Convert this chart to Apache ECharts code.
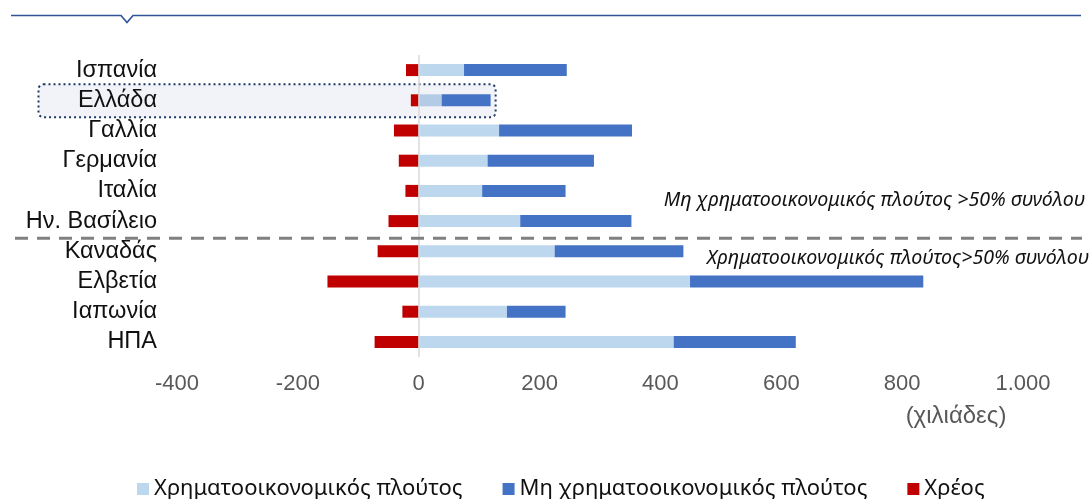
<!DOCTYPE html>
<html lang="el">
<head>
<meta charset="utf-8">
<title>Πλούτος και χρέος ανά χώρα</title>
<script src="https://cdn.jsdelivr.net/npm/echarts@6/dist/echarts.min.js"></script>
<style>
  html, body { margin: 0; padding: 0; background: #ffffff; }
  #chart { width: 1092px; height: 499px; }
</style>
</head>
<body>
<div id="chart"></div>
<script>
// Countries, top to bottom
const categories = ['Ισπανία', 'Ελλάδα', 'Γαλλία', 'Γερμανία', 'Ιταλία', 'Ην. Βασίλειο', 'Καναδάς', 'Ελβετία', 'Ιαπωνία', 'ΗΠΑ'];
// Values in thousands
const financialWealth    = [75, 38, 133, 114, 105, 168, 225, 449, 146, 422];
const nonFinancialWealth = [170, 81, 220, 176, 138, 184, 213, 386, 97, 202];
const debt               = [-21, -13, -41, -33, -22, -50, -68, -151, -27, -73];
// Value-axis ticks
const xTicks = [-400, -200, 0, 200, 400, 600, 800, 1000];

const seriesNames = ['Χρηματοοικονομικός πλούτος', 'Μη χρηματοοικονομικός πλούτος', 'Χρέος'];
const noteUpper = 'Μη χρηματοοικονομικός πλούτος >50% συνόλου';
const noteLower = 'Χρηματοοικονομικός πλούτος>50% συνόλου';
const highlighted = 'Ελλάδα';

const formatThousands = v => {
  const s = String(Math.abs(v)).replace(/\B(?=(\d{3})+(?!\d))/g, '.');
  return (v < 0 ? '-' : '') + s;
};

// Bar items; the highlighted country gets a slightly deeper tint
const withTint = (values, color, tint) => values.map((v, i) =>
  categories[i] === highlighted ? { value: v, itemStyle: { color: tint } } : { value: v, itemStyle: { color } });

const chart = echarts.init(document.getElementById('chart'), null, { renderer: 'canvas' });

const option = {
  animation: false,
  backgroundColor: '#ffffff',
  grid: { left: 177, right: 69, top: 55, bottom: 142, containLabel: false },
  xAxis: {
    type: 'value',
    min: xTicks[0],
    max: xTicks[xTicks.length - 1],
    interval: xTicks[1] - xTicks[0],
    axisLine: { show: false },
    axisTick: { show: false },
    splitLine: { show: false },
    axisLabel: {
      margin: 16,
      color: '#595959',
      fontFamily: 'Liberation Sans, Arial, sans-serif',
      fontSize: 22,
      formatter: formatThousands
    }
  },
  yAxis: {
    type: 'category',
    data: categories,
    inverse: true,
    axisLine: { show: false },
    axisTick: { show: false },
    splitLine: { show: false },
    axisLabel: {
      interval: 0,
      hideOverlap: false,
      margin: 20,
      color: '#111111',
      fontFamily: 'Liberation Sans, Arial, sans-serif',
      fontSize: 23.5
    }
  },
  legend: {
    left: 137,
    top: 478,
    padding: 0,
    itemWidth: 12,
    itemHeight: 12,
    itemGap: 40,
    icon: 'rect',
    data: seriesNames,
    textStyle: {
      color: '#111111',
      fontFamily: 'Noto Sans, Open Sans, sans-serif',
      fontSize: 22
    }
  },
  series: [
    {
      name: seriesNames[0],
      type: 'bar',
      stack: 'total',
      barWidth: 12,
      itemStyle: { color: '#BDD7EE' },
      data: withTint(financialWealth, '#BDD7EE', '#B4CBE6'),
      markLine: {
        silent: true,
        symbol: 'none',
        label: { show: false },
        lineStyle: { color: '#D9D9D9', type: 'solid', width: 1.5 },
        data: [{ xAxis: 0 }]
      }
    },
    {
      name: seriesNames[1],
      type: 'bar',
      stack: 'total',
      barWidth: 12,
      itemStyle: { color: '#4472C4' },
      data: nonFinancialWealth
    },
    {
      name: seriesNames[2],
      type: 'bar',
      stack: 'total',
      barWidth: 12,
      itemStyle: { color: '#C00000' },
      data: debt
    }
  ]
};

chart.setOption(option);

// Decorations placed from the axis scales: top rule, highlight box, group divider, notes, unit label
function drawDecorations() {
  const yOf = name => chart.convertToPixel({ yAxisIndex: 0 }, name);
  const xOf = v => chart.convertToPixel({ xAxisIndex: 0 }, v);
  const gi = categories.indexOf(highlighted);
  const yHi = yOf(highlighted);
  const xHiEnd = xOf(financialWealth[gi] + nonFinancialWealth[gi]);
  const ySep = (yOf('Ην. Βασίλειο') + yOf('Καναδάς')) / 2 + 2;
  const xMax = xOf(xTicks[xTicks.length - 1]);

  chart.setOption({
    graphic: [
      {
        type: 'polyline',
        silent: true,
        shape: { points: [[11, 15.5], [121, 15.5], [127, 22.5], [133, 15.5], [1081, 15.5]] },
        style: { stroke: '#2F5597', lineWidth: 1.6, fill: null }
      },
      {
        type: 'rect',
        silent: true,
        z: -10,
        shape: { x: 38.5, y: yHi - 16, width: xHiEnd + 5 - 38.5, height: 33, r: 5 },
        style: {
          fill: '#F2F3F8',
          stroke: '#1F3864',
          lineWidth: 2,
          lineDash: [2, 3]
        }
      },
      {
        type: 'line',
        silent: true,
        z: 50,
        shape: { x1: 15, y1: ySep, x2: 1082, y2: ySep },
        style: { stroke: '#808080', lineWidth: 3, lineDash: [13, 9] }
      },
      {
        type: 'text',
        silent: true,
        style: {
          x: 1085, y: ySep - 38,
          text: noteUpper,
          align: 'right', verticalAlign: 'middle',
          font: 'italic 19.6px "Noto Sans", "Open Sans", sans-serif',
          fill: '#111111'
        }
      },
      {
        type: 'text',
        silent: true,
        style: {
          x: 1089, y: ySep + 20,
          text: noteLower,
          align: 'right', verticalAlign: 'middle',
          font: 'italic 19.6px "Noto Sans", "Open Sans", sans-serif',
          fill: '#111111'
        }
      },
      {
        type: 'text',
        silent: true,
        style: {
          x: xMax - 67, y: 416,
          text: '(χιλιάδες)',
          align: 'center', verticalAlign: 'middle',
          font: '24px "Liberation Sans", Arial, sans-serif',
          fill: '#595959'
        }
      }
    ]
  });
}

drawDecorations();
</script>
</body>
</html>
